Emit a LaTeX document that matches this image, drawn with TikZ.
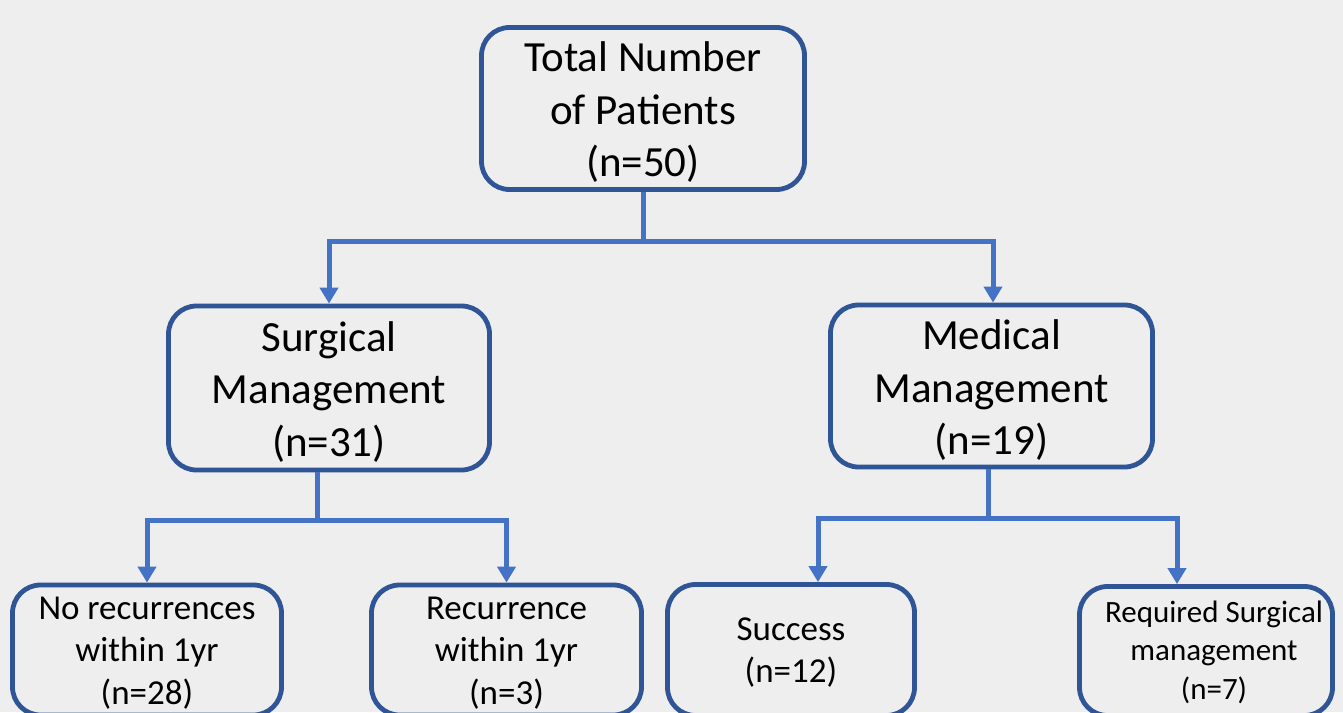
\documentclass[tikz,border=0pt]{standalone}
\usepackage{fontspec}
\setmainfont{Carlito}
\usetikzlibrary{arrows.meta,calc}
\definecolor{bg}{HTML}{EEEEEE}
\definecolor{boxline}{HTML}{2F5597}
\definecolor{connline}{HTML}{4472C4}
\tikzset{
  flowbox/.style={draw=boxline, line width=4.8pt, rounded corners=28pt, fill=bg, inner sep=0pt},
  boxtext/.style={align=center, text=black, inner sep=0pt},
  bigtext/.style={boxtext, font=\fontsize{43}{52.5}\selectfont},
  midtext/.style={boxtext, font=\fontsize{35}{42.5}\selectfont},
  smalltext/.style={boxtext, font=\fontsize{31}{38.5}\selectfont},
  conn/.style={draw=connline, line width=5pt},
  connarrow/.style={conn, -{Triangle[width=18pt,length=16pt]}},
}
\begin{document}
\begin{tikzpicture}[x=1pt,y=-1pt]
\useasboundingbox (0,0) rectangle (1343,712);
\fill[bg] (0,0) rectangle (1343,712);
\clip (0,0) rectangle (1343,712);
\node[flowbox, minimum width=323pt, minimum height=162pt] (top) at (643,108.5) {};
\node[bigtext] (toptext) at ([yshift=-4pt]top.center) {Total Number\\of Patients\\(n=50)};
\node[flowbox, minimum width=321pt, minimum height=164pt] (surg) at (329,388) {};
\node[bigtext] (surgtext) at ([yshift=-4pt]surg.center) {Surgical\\Management\\(n=31)};
\node[flowbox, minimum width=322pt, minimum height=162pt] (med) at (991.5,386) {};
\node[bigtext] (medtext) at ([yshift=-4.5pt]med.center) {Medical\\Management\\(n=19)};
\node[flowbox, minimum width=269pt, minimum height=130pt] (b1) at (147,650) {};
\node[midtext] (b1text) at ([yshift=-3pt]b1.center) {No recurrences\\within 1yr\\(n=28)};
\node[flowbox, minimum width=270pt, minimum height=130pt] (b2) at (506.5,650) {};
\node[midtext] (b2text) at ([yshift=-3pt]b2.center) {Recurrence\\within 1yr\\(n=3)};
\node[flowbox, minimum width=247pt, minimum height=131pt] (b3) at (791,650) {};
\node[midtext] (b3text) at ([yshift=-2.5pt]b3.center) {Success\\(n=12)};
\node[flowbox, minimum width=253pt, minimum height=129pt] (b4) at (1206,651) {};
\node[smalltext] (b4text) at ([xshift=8pt,yshift=-1pt]b4.center) {Required Surgical\\management\\(n=7)};
\coordinate (tj) at (643,241);
\coordinate (sj) at (317,520);
\coordinate (mj) at (988,518);
\draw[conn] (top.south) -- (tj);
\draw[connarrow] (tj) -| (surg.north);
\draw[connarrow] (tj) -| ([xshift=1.5pt]med.north);
\draw[conn] (surg.south -| sj) -- (sj);
\draw[connarrow] (sj) -| (b1.north);
\draw[connarrow] (sj) -| (b2.north);
\draw[conn] (med.south -| mj) -- (mj);
\draw[connarrow] (mj) -| ([xshift=27pt]b3.north);
\draw[connarrow] (mj) -| ([xshift=-29pt]b4.north);
\end{tikzpicture}
\end{document}
